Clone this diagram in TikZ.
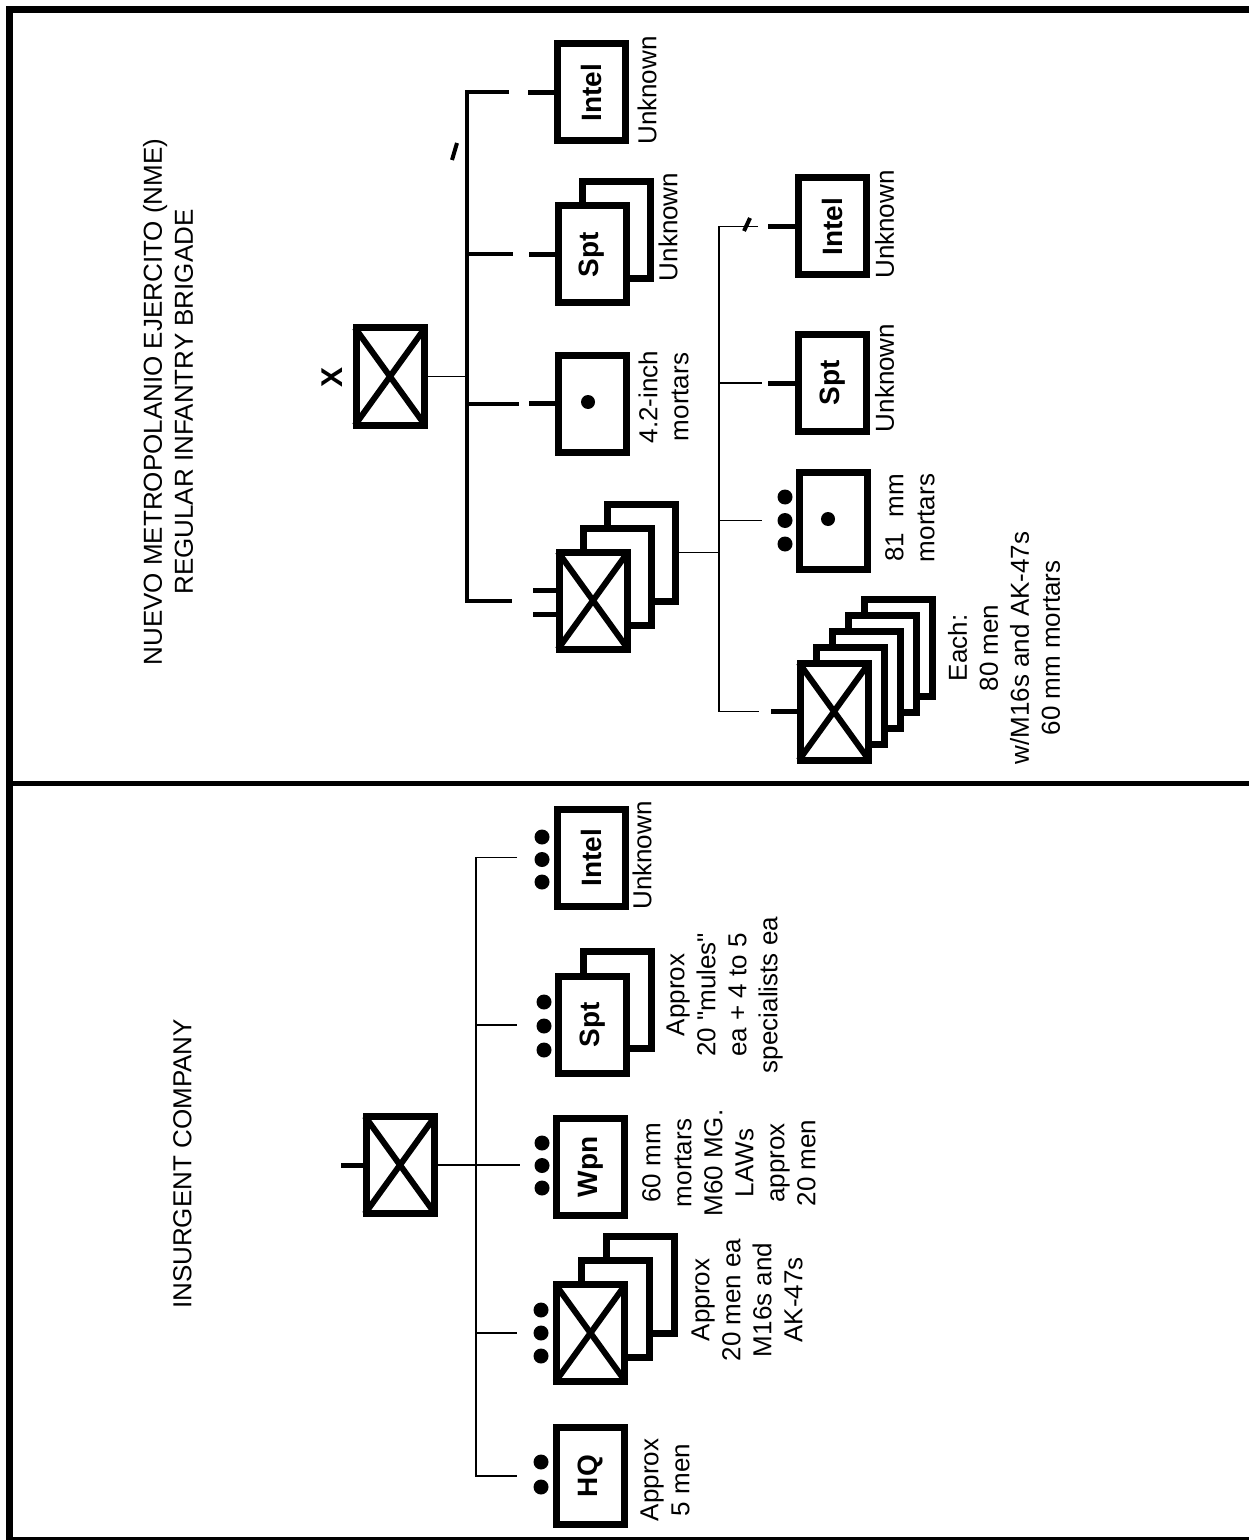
\documentclass[tikz,border=0pt]{standalone}
\usepackage{fontspec}
\setmainfont{Liberation Sans}
\newcommand{\notefont}{\fontsize{13}{15.5}\selectfont}
\newcommand{\unitfont}{\fontsize{14}{16}\selectfont\bfseries}
\tikzset{
  unitbox/.style={draw, fill=white, rectangle, rotate=90,
                  minimum width=48.5pt, minimum height=34pt,
                  inner sep=0pt, line width=3.5pt, font=\unitfont},
  crossbar/.style={line width=3pt, shorten <=2pt, shorten >=2pt},
  busline/.style={line width=2pt},
  stubline/.style={line width=2.5pt},
  thinline/.style={line width=0.8pt},
  note/.style={rotate=90, align=center, inner sep=0pt, font=\notefont},
  framerule/.style={line width=3.5pt}
}

\begin{document}
\begin{tikzpicture}[x=0.5pt, y=-0.5pt]
  \useasboundingbox (0,0) rectangle (1249,1540);

  % --- page frame ---
  \draw[framerule] (1249,9.5) -- (9.5,9.5) -- (9.5,1540);
  \draw[line width=2.5pt] (9.5,783.5) -- (1249,783.5);
  \draw[line width=1.5pt] (9.5,1538.5) -- (1249,1538.5);

  % --- NME brigade (upper panel) ---
  \node[note] (titleA) at (168,402)
    {NUEVO METROPOLANIO EJERCITO (NME)\\REGULAR INFANTRY BRIGADE};
  \node[unitbox] (hqA) at (390,376.5) {};
  \draw[crossbar] (hqA.north west) -- (hqA.south east);
  \draw[crossbar] (hqA.north east) -- (hqA.south west);
  \node[note, font=\fontsize{15}{18}\selectfont\bfseries] (hqA-size) at (332,377) {X};

  \node[unitbox] (intelA) at (591,92.5) {Intel};
  \node[unitbox] (sptA-2) at (616,230.5) {};
  \node[unitbox] (sptA) at (592,254.5) {Spt};
  \node[unitbox] (mtrA) at (592,403.5) {};
  \fill (588,402) circle (3.5pt);
  \node[unitbox] (bnA-3) at (641,552.5) {};
  \node[unitbox] (bnA-2) at (617,576.5) {};
  \node[unitbox] (bnA) at (593,600.5) {};
  \draw[crossbar] (bnA.north west) -- (bnA.south east);
  \draw[crossbar] (bnA.north east) -- (bnA.south west);

  \node[note] (intelA-txt) at (647,90.5) {Unknown};
  \node[note] (sptA-txt) at (668,227) {Unknown};
  \node[note] (mtrA-txt) at (663.5,397) {4.2-inch\\mortars};

  % bus and branches
  \coordinate (busA) at (467,0);
  \draw[thinline] (hqA.south) -- (hqA.south -| busA);
  \draw[busline] (intelA.north -| busA) ++(42,0) -| (bnA.north -| busA) -- ++(45,0);
  \draw[busline] (sptA.north -| busA) -- ++(46,0);
  \draw[busline] (mtrA.north -| busA) -- ++(52,0);
  \draw[busline] (452,160) -- (457,143);
  \draw[stubline] (intelA.north) -- ++(-26,0);
  \draw[stubline] (sptA.north) -- ++(-26,0);
  \draw[stubline] (mtrA.north) -- ++(-26,0);
  \draw[stubline] (bnA.north) ++(0,-10) -- ++(-23,0)
                  (bnA.north) ++(0,14) -- ++(-23,0);

  % --- battalion breakdown ---
  \node[unitbox] (intelB) at (832.5,226.5) {Intel};
  \node[unitbox] (sptB) at (832.5,383) {Spt};
  \node[unitbox] (mtrB) at (833.5,520.5) {};
  \fill (828,519) circle (3.5pt);
  \foreach \y in {497,520.5,544}
    \fill (785,\y) circle (3.75pt);
  \foreach \k/\s in {5/64,4/48,3/32,2/16}
    \node[unitbox] (coB-\k) at (834+\s,711.5-\s) {};
  \node[unitbox] (coB) at (834,711.5) {};
  \draw[crossbar] (coB.north west) -- (coB.south east);
  \draw[crossbar] (coB.north east) -- (coB.south west);

  \node[note] (intelB-txt) at (884.5,224.5) {Unknown};
  \node[note] (sptB-txt) at (884.5,378) {Unknown};
  \node[note] (mtrB-txt) at (910,518) {81\hspace{0.6em}mm\\mortars};
  \node[note] (coB-txt) at (1004,648)
    {Each:\\80 men\\w/M16s and AK-47s\\60 mm mortars};

  \coordinate (busB) at (719,0);
  \draw[thinline] (bnA-3.south) -- (bnA-3.south -| busB);
  \draw[thinline] (intelB.north -| busB) ++(39,0) -| (coB.north -| busB) -- ++(40,0);
  \draw[thinline] (sptB.north -| busB) -- ++(43,0);
  \draw[thinline] (mtrB.north -| busB) -- ++(43,0);
  \draw[busline] (744,231) -- (750,218);
  \draw[stubline] (intelB.north) -- ++(-27,0);
  \draw[stubline] (sptB.north) -- ++(-27,0);
  \draw[stubline] (coB.north) -- ++(-26,0);

  % --- insurgent company (lower panel) ---
  \node[note] (titleI) at (182.5,1164) {INSURGENT COMPANY};
  \node[unitbox] (coI) at (400,1165) {};
  \draw[crossbar] (coI.north west) -- (coI.south east);
  \draw[crossbar] (coI.north east) -- (coI.south west);
  \draw[stubline] (coI.north) -- ++(-22,0);

  \node[unitbox] (intelI) at (591,857.5) {Intel};
  \node[unitbox] (sptI-2) at (617.5,1000) {};
  \node[unitbox] (sptI) at (592.5,1025) {Spt};
  \node[unitbox] (wpnI) at (590.5,1167) {Wpn};
  \node[unitbox] (plI-3) at (640.5,1285) {};
  \node[unitbox] (plI-2) at (615.5,1309) {};
  \node[unitbox] (plI) at (590.5,1333) {};
  \draw[crossbar] (plI.north west) -- (plI.south east);
  \draw[crossbar] (plI.north east) -- (plI.south west);
  \node[unitbox] (hqI) at (590.5,1476) {HQ};

  % echelon dots
  \foreach \y in {837,859.5,882} \fill (542,\y) circle (3.75pt);
  \foreach \y in {1002,1026,1050} \fill (544,\y) circle (3.75pt);
  \foreach \y in {1143,1165.5,1188} \fill (542,\y) circle (3.75pt);
  \foreach \y in {1310,1333,1356} \fill (541,\y) circle (3.75pt);
  \foreach \y in {1462,1487} \fill (541,\y) circle (3.75pt);

  \node[note] (intelI-txt) at (642,855.5) {Unknown};
  \node[note] (sptI-txt) at (724.5,995)
    {Approx\\20 \textquotedbl mules\textquotedbl\\ea + 4 to 5\\specialists ea};
  \node[note] (wpnI-txt) at (729,1163)
    {60 mm\\mortars\\M60 MG.\\LAWs\\approx\\20 men};
  \node[note] (plI-txt) at (747,1300)
    {Approx\\20 men ea\\M16s and\\AK-47s};
  \node[note] (hqI-txt) at (665,1480) {Approx\\5 men};

  \coordinate (busI) at (476,0);
  \draw[thinline] (coI.south) -- ++(82,0);
  \draw[thinline] (intelI.north -| busI) ++(41,0) -| (hqI.north -| busI) -- ++(41,0);
  \draw[thinline] (sptI.north -| busI) -- ++(41,0);
  \draw[thinline] (plI.north -| busI) -- ++(41,0);

\end{tikzpicture}
\end{document}
